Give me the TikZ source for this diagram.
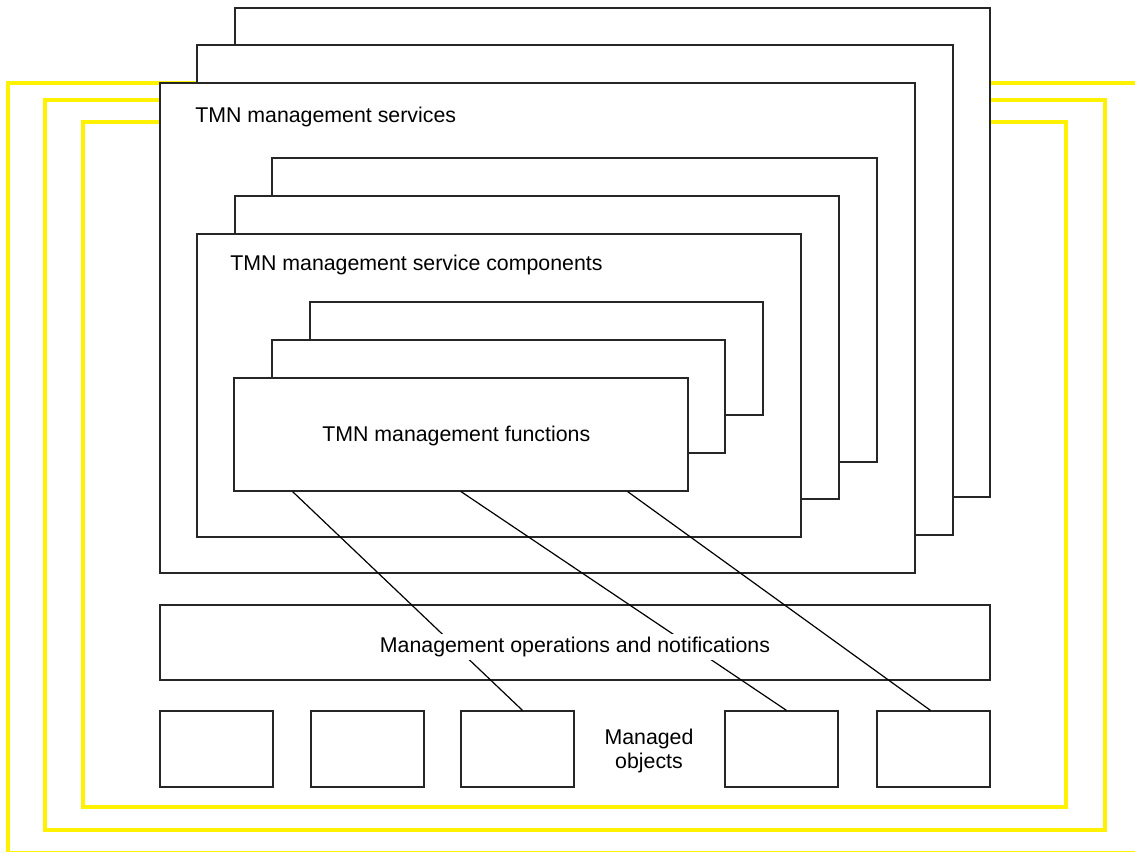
\documentclass[tikz,border=0pt]{standalone}
\usepackage{fontspec}
\setmainfont{Liberation Sans}
\usetikzlibrary{calc}
\usetikzlibrary{fit}

\tikzset{
  box/.style={draw=black!85, line width=0.9pt, fill=white, inner sep=0pt},
  frame/.style={draw=yellow, line width=2.4pt},
  tag/.style={inner sep=0pt, anchor=base west, font=\fontsize{16}{17.5}\selectfont},
  link/.style={draw=black, line width=0.9pt}
}

\begin{document}
\begin{tikzpicture}[x=0.75pt, y=-0.75pt]
    \useasboundingbox (0,0) rectangle (1135,852);
    % yellow frames
    \draw[frame] (1140,83) -| (8,853) -- (1140,853);
    \draw[frame] (45,100) rectangle (1105,830);
    \draw[frame] (83,122) rectangle (1066,807);

    % management services
    \node[box, fit={(235,8) (990,497)}]  (svcA) {};
    \node[box, fit={(197,45) (953,535)}] (svcB) {};
    \node[box, fit={(160,83) (915,573)}] (svc)  {};
    \node[tag] (svcLbl) at (195,123) {TMN management services};

    % service components
    \node[box, fit={(272,158) (877,462)}] (cmpA) {};
    \node[box, fit={(235,196) (839,499)}] (cmpB) {};
    \node[box, fit={(197,234) (801,537)}] (cmp)  {};
    \node[tag] (cmpLbl) at (230,271) {TMN management service components};

    % management functions
    \node[box, fit={(310,302) (763,415)}] (fnA) {};
    \node[box, fit={(272,340) (725,453)}] (fnB) {};
    \node[box, fit={(234,378) (688,491)}] (fn)  {};
    \node[tag] (fnLbl) at (322,441) {TMN management functions};

    % operations and managed objects
    \node[box, fit={(160,605) (990,680)}] (ops) {};
    \foreach \i/\x in {1/160, 2/311, 3/461, 4/725, 5/877}
        \node[box, fit={(\x,711) (\x+113,787)}] (mo\i) {};
    \node[align=center, inner sep=0pt, font=\fontsize{16}{17.5}\selectfont] (moLbl) at (649,751) {Managed\\objects};

    % links
    \draw[link] ($(fn.south west)!0.13!(fn.south east)$) -- ($(mo3.north)+(5,0)$);
    \draw[link] (fn.south) -- ($(mo4.north)+(5,0)$);
    \draw[link] ($(fn.south west)!0.866!(fn.south east)$) -- ($(mo5.north)+(-3,0)$);
    \node[fill=white, inner sep=2pt, font=\fontsize{16}{17.5}\selectfont] (opsLbl) at ($(ops.center)+(0,4.5)$) {Management operations and notifications};

  \end{tikzpicture}
\end{document}
